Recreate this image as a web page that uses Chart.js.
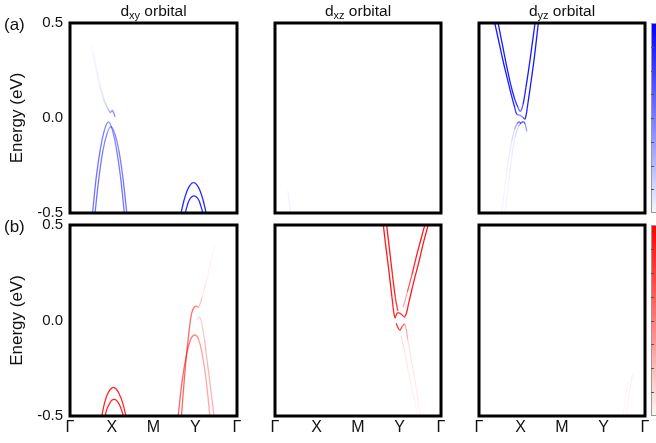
<!DOCTYPE html>
<html>
<head>
<meta charset="utf-8">
<script src="https://cdn.jsdelivr.net/npm/chart.js@4.4.1/dist/chart.umd.min.js"></script>
<style>
  html, body { margin: 0; padding: 0; background: #fff; overflow: hidden; }
  #wrap { position: relative; width: 656px; height: 443px; }
  canvas { position: absolute; left: 0; top: 0; }
</style>
</head>
<body>
<div id="wrap">
  <canvas id="p1" width="656" height="443"></canvas>
  <canvas id="p2" width="656" height="443"></canvas>
  <canvas id="p3" width="656" height="443"></canvas>
  <canvas id="p4" width="656" height="443"></canvas>
  <canvas id="p5" width="656" height="443"></canvas>
  <canvas id="p6" width="656" height="443"></canvas>
</div>
<script>
// k-path and energy ticks
const kLabels = ['Γ', 'X', 'M', 'Y', 'Γ'];
const kTicks = [0, 1, 2, 3, 4];
const eTicks = [-0.5, 0, 0.5];

// (a) dxy : bands near X
const xyX1K = [0.54, 0.63, 0.73, 0.83, 0.92, 1.01, 1.11, 1.21, 1.30];
const xyX1E = [-0.5, -0.31, -0.16, -0.06, -0.02, -0.06, -0.16, -0.31, -0.5];
const xyX1W = [0.55, 0.55, 0.55, 0.5, 0.45, 0.45, 0.5, 0.55, 0.55];
const xyX2K = [0.60, 0.69, 0.79, 0.89, 0.98, 1.07, 1.17, 1.27, 1.36];
const xyX2E = [-0.5, -0.32, -0.17, -0.08, -0.045, -0.08, -0.17, -0.32, -0.5];
const xyX2W = [0.55, 0.55, 0.5, 0.45, 0.4, 0.45, 0.5, 0.55, 0.55];
const xyU1K = [0.50, 0.60, 0.70, 0.80, 0.90, 0.97, 1.01, 1.05, 1.08];
const xyU1E = [0.38, 0.28, 0.18, 0.10, 0.05, 0.03, 0.04, 0.025, 0.005];
const xyU1W = [0.03, 0.04, 0.06, 0.09, 0.15, 0.3, 0.5, 0.5, 0.45];
const xyU2K = [0.55, 0.65, 0.75, 0.85, 0.93, 0.98];
const xyU2E = [0.36, 0.25, 0.15, 0.08, 0.04, 0.025];
const xyU2W = [0.03, 0.04, 0.05, 0.08, 0.12, 0.2];
// (a) dxy : bands near Y
const xyY1K = [2.66, 2.73, 2.81, 2.89, 2.96, 3.03, 3.11, 3.19, 3.26];
const xyY1E = [-0.5, -0.434, -0.38, -0.349, -0.34, -0.349, -0.38, -0.434, -0.5];
const xyY1W = [0.85, 0.85, 0.85, 0.85, 0.85, 0.85, 0.85, 0.85, 0.85];
const xyY2K = [2.76, 2.81, 2.86, 2.92, 2.97, 3.02, 3.08, 3.13, 3.18];
const xyY2E = [-0.5, -0.46, -0.43, -0.415, -0.41, -0.415, -0.43, -0.46, -0.5];
const xyY2W = [0.85, 0.85, 0.85, 0.85, 0.85, 0.85, 0.85, 0.85, 0.85];

// (a) dxz : almost nothing
const xzFaintK = [0.31, 0.34, 0.37];
const xzFaintE = [-0.38, -0.44, -0.5];
const xzFaintW = [0.05, 0.05, 0.05];

// (a) dyz : electron pockets near X
const yzOutK = [0.38, 0.48, 0.58, 0.68, 0.78, 0.86, 0.91, 0.98, 1.05, 1.11, 1.18, 1.26, 1.34, 1.43];
const yzOutE = [0.5, 0.40, 0.30, 0.21, 0.12, 0.055, 0.02, 0.015, 0.005, -0.005, 0.08, 0.2, 0.33, 0.5];
const yzOutW = [0.9, 0.9, 0.9, 0.9, 0.9, 0.85, 0.7, 0.4, 0.5, 0.8, 0.9, 0.9, 0.9, 0.9];
const yzInK = [0.46, 0.56, 0.66, 0.76, 0.86, 0.94, 1.0, 1.06, 1.13, 1.20, 1.27, 1.35];
const yzInE = [0.5, 0.39, 0.28, 0.18, 0.1, 0.055, 0.035, 0.07, 0.16, 0.26, 0.37, 0.5];
const yzInW = [0.9, 0.9, 0.9, 0.9, 0.85, 0.7, 0.5, 0.8, 0.9, 0.9, 0.9, 0.9];
const yzLow1K = [0.55, 0.63, 0.71, 0.79, 0.86, 0.92, 0.97, 1.01];
const yzLow1E = [-0.5, -0.35, -0.22, -0.12, -0.06, -0.03, -0.02, -0.03];
const yzLow1W = [0.04, 0.05, 0.07, 0.1, 0.2, 0.5, 0.7, 0.7];
const yzLow2K = [0.63, 0.71, 0.79, 0.87, 0.95, 1.02, 1.07, 1.11, 1.15];
const yzLow2E = [-0.5, -0.34, -0.2, -0.1, -0.045, -0.025, -0.02, -0.03, -0.07];
const yzLow2W = [0.04, 0.05, 0.07, 0.1, 0.2, 0.5, 0.8, 0.6, 0.2];

// (b) : bands near X
const bxX1K = [0.76, 0.83, 0.90, 0.97, 1.04, 1.11, 1.18, 1.26, 1.34];
const bxX1E = [-0.5, -0.43, -0.385, -0.36, -0.35, -0.36, -0.385, -0.43, -0.5];
const bxX1W = [0.85, 0.85, 0.85, 0.85, 0.85, 0.85, 0.85, 0.85, 0.85];
const bxX2K = [0.84, 0.89, 0.95, 1.00, 1.06, 1.11, 1.17, 1.22, 1.28];
const bxX2E = [-0.5, -0.46, -0.435, -0.418, -0.413, -0.418, -0.435, -0.46, -0.5];
const bxX2W = [0.85, 0.85, 0.85, 0.85, 0.85, 0.85, 0.85, 0.85, 0.85];
// (b) : bands near Y
const bxY1K = [2.59, 2.69, 2.79, 2.89, 2.99, 3.08, 3.17, 3.26, 3.35];
const bxY1E = [-0.5, -0.31, -0.18, -0.10, -0.076, -0.10, -0.18, -0.31, -0.5];
const bxY1W = [0.6, 0.6, 0.6, 0.55, 0.5, 0.4, 0.35, 0.35, 0.35];
const bxY2K = [2.67, 2.73, 2.79, 2.85, 2.91, 2.96, 3.02, 3.08, 3.16, 3.26, 3.37, 3.47];
const bxY2E = [-0.5, -0.33, -0.18, -0.06, 0.035, 0.065, 0.075, 0.07, 0.12, 0.2, 0.3, 0.4];
const bxY2W = [0.6, 0.6, 0.6, 0.6, 0.55, 0.6, 0.55, 0.35, 0.12, 0.07, 0.05, 0.03];
const bxY3K = [3.05, 3.10, 3.16, 3.22, 3.29, 3.37, 3.45];
const bxY3E = [0.0, 0.02, -0.02, -0.1, -0.22, -0.36, -0.5];
const bxY3W = [0.1, 0.15, 0.2, 0.25, 0.3, 0.3, 0.3];

// (b) dxz : electron pockets near Y
const bzOutK = [2.61, 2.68, 2.75, 2.82, 2.89, 2.95, 3.03, 3.13, 3.23, 3.34, 3.46, 3.58, 3.69];
const bzOutE = [0.5, 0.37, 0.25, 0.12, 0.015, 0.04, 0.035, 0.02, 0.1, 0.2, 0.3, 0.41, 0.5];
const bzOutW = [0.9, 0.9, 0.9, 0.9, 0.85, 0.8, 0.8, 0.85, 0.9, 0.9, 0.9, 0.9, 0.9];
const bzInLK = [2.69, 2.76, 2.83, 2.90, 2.96];
const bzInLE = [0.5, 0.37, 0.24, 0.12, 0.05];
const bzInLW = [0.9, 0.9, 0.9, 0.85, 0.7];
const bzInRK = [3.09, 3.19, 3.30, 3.40, 3.51, 3.61];
const bzInRE = [0.07, 0.15, 0.24, 0.33, 0.42, 0.5];
const bzInRW = [0.15, 0.5, 0.8, 0.9, 0.9, 0.9];
const bzLow1K = [2.92, 2.97, 3.01, 3.07, 3.13, 3.20, 3.28, 3.36, 3.44, 3.50];
const bzLow1E = [-0.015, -0.04, -0.05, -0.03, -0.02, -0.1, -0.2, -0.3, -0.41, -0.5];
const bzLow1W = [0.8, 0.8, 0.8, 0.7, 0.5, 0.15, 0.1, 0.08, 0.06, 0.05];
const bzLow2K = [3.04, 3.12, 3.20, 3.28, 3.36, 3.45];
const bzLow2E = [-0.08, -0.16, -0.25, -0.34, -0.42, -0.5];
const bzLow2W = [0.15, 0.1, 0.08, 0.06, 0.05, 0.04];

// (b) dyz : faint traces only
const byF1K = [3.55, 3.62, 3.70];
const byF1E = [-0.5, -0.38, -0.28];
const byF1W = [0.06, 0.06, 0.06];
const byF2K = [3.47, 3.53, 3.60];
const byF2E = [-0.5, -0.41, -0.32];
const byF2W = [0.04, 0.04, 0.04];

const FONT = '"Liberation Sans", Arial, Helvetica, sans-serif';
const W = 656, H = 443;

const band = (k, e, w) => ({ k, e, w });

const panels = [
  { id: 'p1', box: [70, 23, 237, 213], rgb: '0,0,255', title: ['d', 'xy', ' orbital'], tag: '(a)', yAxis: true,
    bands: [band(xyX1K, xyX1E, xyX1W), band(xyX2K, xyX2E, xyX2W), band(xyU1K, xyU1E, xyU1W),
            band(xyU2K, xyU2E, xyU2W), band(xyY1K, xyY1E, xyY1W), band(xyY2K, xyY2E, xyY2W)] },
  { id: 'p2', box: [275, 23, 441, 213], rgb: '0,0,255', title: ['d', 'xz', ' orbital'],
    bands: [band(xzFaintK, xzFaintE, xzFaintW)] },
  { id: 'p3', box: [479, 23, 645, 213], rgb: '0,0,255', title: ['d', 'yz', ' orbital'], bar: true,
    bands: [band(yzOutK, yzOutE, yzOutW), band(yzInK, yzInE, yzInW),
            band(yzLow1K, yzLow1E, yzLow1W), band(yzLow2K, yzLow2E, yzLow2W)] },
  { id: 'p4', box: [70, 225, 237, 416], rgb: '255,0,0', tag: '(b)', yAxis: true, xAxis: true,
    bands: [band(bxX1K, bxX1E, bxX1W), band(bxX2K, bxX2E, bxX2W), band(bxY1K, bxY1E, bxY1W),
            band(bxY2K, bxY2E, bxY2W), band(bxY3K, bxY3E, bxY3W)] },
  { id: 'p5', box: [275, 225, 441, 416], rgb: '255,0,0', xAxis: true,
    bands: [band(bzOutK, bzOutE, bzOutW), band(bzInLK, bzInLE, bzInLW), band(bzInRK, bzInRE, bzInRW),
            band(bzLow1K, bzLow1E, bzLow1W), band(bzLow2K, bzLow2E, bzLow2W)] },
  { id: 'p6', box: [479, 225, 645, 416], rgb: '255,0,0', xAxis: true, bar: true,
    bands: [band(byF1K, byF1E, byF1W), band(byF2K, byF2E, byF2W)] }
];

const rgba = (rgb, a) => 'rgba(' + rgb + ',' + a.toFixed(3) + ')';

// frame, orbital title, panel tag and colour bar
const deco = p => ({
  id: 'deco',
  afterDatasetsDraw(chart) {
    const { ctx, chartArea: a } = chart;
    ctx.save();
    ctx.strokeStyle = '#000';
    ctx.lineWidth = 3;
    ctx.strokeRect(a.left, a.top, a.right - a.left, a.bottom - a.top);

    ctx.fillStyle = '#111';
    ctx.textBaseline = 'alphabetic';
    ctx.textAlign = 'left';
    if (p.title) {
      const big = '15.5px ' + FONT, small = '11px ' + FONT;
      ctx.font = big;
      const w1 = ctx.measureText(p.title[0]).width;
      const w3 = ctx.measureText(p.title[2]).width;
      ctx.font = small;
      const w2 = ctx.measureText(p.title[1]).width;
      let x = (a.left + a.right) / 2 - (w1 + w2 + w3) / 2;
      const y = a.top - 7;
      ctx.font = big; ctx.fillText(p.title[0], x, y); x += w1;
      ctx.font = small; ctx.fillText(p.title[1], x, y + 3); x += w2;
      ctx.font = big; ctx.fillText(p.title[2], x, y);
    }
    if (p.tag) {
      ctx.font = '17px ' + FONT;
      ctx.fillText(p.tag, 4, a.top + 7);
    }
    if (p.bar) {
      const x0 = 651, bw = 10, top = a.top, bot = a.bottom;
      const g = ctx.createLinearGradient(0, bot, 0, top);
      g.addColorStop(0, rgba(p.rgb, 0.03));
      g.addColorStop(1, rgba(p.rgb, 1));
      ctx.fillStyle = g;
      ctx.fillRect(x0, top, bw, bot - top);
      ctx.lineWidth = 1;
      ctx.strokeStyle = '#999';
      ctx.strokeRect(x0 + 0.5, top + 0.5, bw, bot - top - 1);
      ctx.strokeStyle = '#555';
      for (let i = 1; i < 8; i++) {
        const y = Math.round(bot - (bot - top) * i / 8) + 0.5;
        ctx.beginPath(); ctx.moveTo(x0, y); ctx.lineTo(x0 + 3, y); ctx.stroke();
      }
    }
    ctx.restore();
  }
});

panels.forEach(p => {
  const [L, T, R, B] = p.box;
  const datasets = p.bands.map(b => ({
    data: b.k.map((k, i) => ({ x: k, y: b.e[i] })),
    showLine: true,
    pointRadius: 0,
    borderWidth: 1.3,
    tension: 0.4,
    fill: false,
    borderColor: rgba(p.rgb, b.w[0]),
    segment: {
      borderColor: c => rgba(p.rgb, (b.w[c.p0DataIndex] + b.w[c.p1DataIndex]) / 2)
    }
  }));

  const xScale = {
    type: 'linear',
    min: 0, max: 4,
    display: !!p.xAxis,
    grid: { display: false, drawTicks: false },
    border: { display: false },
    afterBuildTicks: s => { s.ticks = kTicks.map(v => ({ value: v })); },
    ticks: {
      autoSkip: false,
      maxRotation: 0,
      padding: 2,
      color: '#111',
      font: { family: FONT, size: 16 },
      callback: (v, i) => kLabels[i]
    }
  };
  if (p.xAxis) xScale.afterFit = s => { s.height = H - B; };

  const yScale = {
    type: 'linear',
    min: -0.5, max: 0.5,
    display: !!p.yAxis,
    grid: { display: false, drawTicks: false },
    border: { display: false },
    afterBuildTicks: s => { s.ticks = eTicks.map(v => ({ value: v })); },
    title: {
      display: !!p.yAxis,
      text: 'Energy (eV)',
      color: '#111',
      font: { family: FONT, size: 17 },
      padding: { top: 7, bottom: 0 }
    },
    ticks: {
      padding: 7,
      color: '#111',
      font: { family: FONT, size: 15 },
      callback: v => v.toFixed(1)
    }
  };
  if (p.yAxis) yScale.afterFit = s => { s.width = L; };

  new Chart(document.getElementById(p.id), {
    type: 'scatter',
    data: { datasets },
    options: {
      responsive: false,
      animation: false,
      devicePixelRatio: 1,
      layout: {
        padding: {
          left: p.yAxis ? 0 : L,
          top: T,
          right: W - R,
          bottom: p.xAxis ? 0 : H - B
        }
      },
      plugins: { legend: { display: false }, tooltip: { enabled: false } },
      scales: { x: xScale, y: yScale }
    },
    plugins: [deco(p)]
  });
});
</script>
</body>
</html>
